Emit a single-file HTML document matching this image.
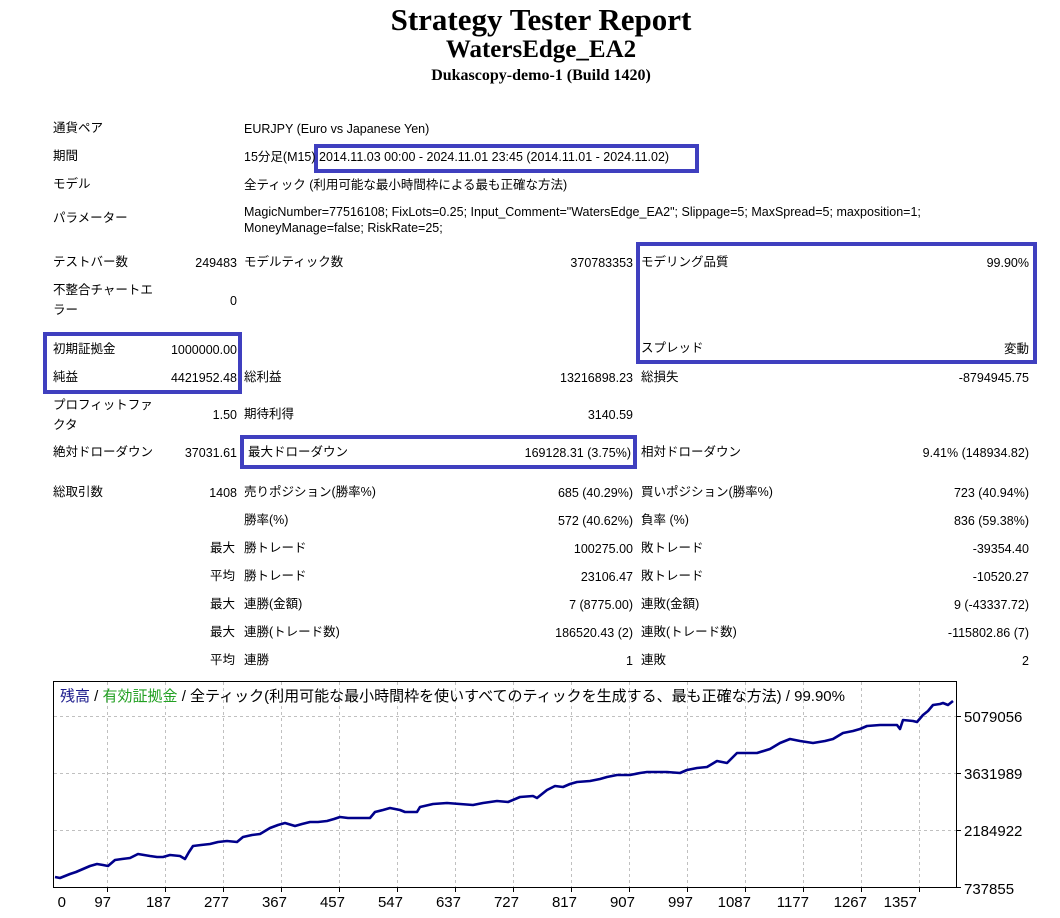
<!DOCTYPE html>
<html><head><meta charset="utf-8"><style>
body{margin:0;width:1060px;height:918px;background:#fff;position:relative;overflow:hidden;font-family:"Liberation Sans","Noto Sans CJK JP",sans-serif;font-size:12.5px;color:#000}
.t{position:absolute;white-space:nowrap;line-height:16px}
.r{text-align:right}
.h{position:absolute;left:0;width:1082px;text-align:center;font-family:"Liberation Serif",serif;font-weight:bold;white-space:nowrap}
.box{position:absolute;border:4px solid #3f3fbf;box-sizing:border-box}
</style></head><body>
<div class="h" style="top:2px;font-size:31px;line-height:35px">Strategy Tester Report</div>
<div class="h" style="top:35px;font-size:25px;line-height:29px">WatersEdge_EA2</div>
<div class="h" style="top:67px;font-size:16px;line-height:18px">Dukascopy-demo-1 (Build 1420)</div>

<div class="box" style="left:314px;top:144px;width:385px;height:29px"></div>
<div class="box" style="left:636px;top:242px;width:401px;height:122px"></div>
<div class="box" style="left:43px;top:332px;width:199px;height:62px"></div>
<div class="box" style="left:240px;top:435px;width:397px;height:34px"></div>

<div class="t" style="left:53px;top:120px">通貨ペア</div>
<div class="t" style="left:244px;top:121px">EURJPY (Euro vs Japanese Yen)</div>
<div class="t" style="left:53px;top:148px">期間</div>
<div class="t" style="left:244px;top:149px">15分足(M15) 2014.11.03 00:00 - 2024.11.01 23:45 (2014.11.01 - 2024.11.02)</div>
<div class="t" style="left:53px;top:176px">モデル</div>
<div class="t" style="left:244px;top:177px">全ティック (利用可能な最小時間枠による最も正確な方法)</div>
<div class="t" style="left:53px;top:210px">パラメーター</div>
<div class="t" style="left:244px;top:204px">MagicNumber=77516108; FixLots=0.25; Input_Comment="WatersEdge_EA2"; Slippage=5; MaxSpread=5; maxposition=1;</div>
<div class="t" style="left:244px;top:220px">MoneyManage=false; RiskRate=25;</div>

<div class="t" style="left:53px;top:254px">テストバー数</div>
<div class="t r" style="left:140px;width:97px;top:255px">249483</div>
<div class="t" style="left:244px;top:254px">モデルティック数</div>
<div class="t r" style="left:500px;width:133px;top:255px">370783353</div>
<div class="t" style="left:641px;top:254px">モデリング品質</div>
<div class="t r" style="left:900px;width:129px;top:255px">99.90%</div>
<div class="t" style="left:53px;top:282px">不整合チャートエ</div>
<div class="t" style="left:53px;top:302px">ラー</div>
<div class="t r" style="left:140px;width:97px;top:293px">0</div>
<div class="t" style="left:641px;top:340px">スプレッド</div>
<div class="t r" style="left:900px;width:129px;top:341px">変動</div>

<div class="t" style="left:53px;top:341px">初期証拠金</div>
<div class="t r" style="left:140px;width:97px;top:342px">1000000.00</div>
<div class="t" style="left:53px;top:369px">純益</div>
<div class="t r" style="left:140px;width:97px;top:370px">4421952.48</div>
<div class="t" style="left:244px;top:369px">総利益</div>
<div class="t r" style="left:480px;width:153px;top:370px">13216898.23</div>
<div class="t" style="left:641px;top:369px">総損失</div>
<div class="t r" style="left:880px;width:149px;top:370px">-8794945.75</div>

<div class="t" style="left:53px;top:397px">プロフィットファ</div>
<div class="t" style="left:53px;top:417px">クタ</div>
<div class="t r" style="left:140px;width:97px;top:407px">1.50</div>
<div class="t" style="left:244px;top:406px">期待利得</div>
<div class="t r" style="left:480px;width:153px;top:407px">3140.59</div>

<div class="t" style="left:53px;top:444px">絶対ドローダウン</div>
<div class="t r" style="left:140px;width:97px;top:445px">37031.61</div>
<div class="t" style="left:248px;top:444px">最大ドローダウン</div>
<div class="t r" style="left:450px;width:181px;top:445px">169128.31 (3.75%)</div>
<div class="t" style="left:641px;top:444px">相対ドローダウン</div>
<div class="t r" style="left:860px;width:169px;top:445px">9.41% (148934.82)</div>

<div class="t" style="left:53px;top:484px">総取引数</div>
<div class="t r" style="left:140px;width:97px;top:485px">1408</div>
<div class="t" style="left:244px;top:484px">売りポジション(勝率%)</div>
<div class="t r" style="left:480px;width:153px;top:485px">685 (40.29%)</div>
<div class="t" style="left:641px;top:484px">買いポジション(勝率%)</div>
<div class="t r" style="left:880px;width:149px;top:485px">723 (40.94%)</div>

<div class="t" style="left:244px;top:512px">勝率(%)</div>
<div class="t r" style="left:480px;width:153px;top:513px">572 (40.62%)</div>
<div class="t" style="left:641px;top:512px">負率 (%)</div>
<div class="t r" style="left:880px;width:149px;top:513px">836 (59.38%)</div>

<div class="t" style="left:210px;top:540px">最大</div>
<div class="t" style="left:244px;top:540px">勝トレード</div>
<div class="t r" style="left:480px;width:153px;top:541px">100275.00</div>
<div class="t" style="left:641px;top:540px">敗トレード</div>
<div class="t r" style="left:880px;width:149px;top:541px">-39354.40</div>

<div class="t" style="left:210px;top:568px">平均</div>
<div class="t" style="left:244px;top:568px">勝トレード</div>
<div class="t r" style="left:480px;width:153px;top:569px">23106.47</div>
<div class="t" style="left:641px;top:568px">敗トレード</div>
<div class="t r" style="left:880px;width:149px;top:569px">-10520.27</div>

<div class="t" style="left:210px;top:596px">最大</div>
<div class="t" style="left:244px;top:596px">連勝(金額)</div>
<div class="t r" style="left:480px;width:153px;top:597px">7 (8775.00)</div>
<div class="t" style="left:641px;top:596px">連敗(金額)</div>
<div class="t r" style="left:880px;width:149px;top:597px">9 (-43337.72)</div>

<div class="t" style="left:210px;top:624px">最大</div>
<div class="t" style="left:244px;top:624px">連勝(トレード数)</div>
<div class="t r" style="left:480px;width:153px;top:625px">186520.43 (2)</div>
<div class="t" style="left:641px;top:624px">連敗(トレード数)</div>
<div class="t r" style="left:880px;width:149px;top:625px">-115802.86 (7)</div>

<div class="t" style="left:210px;top:652px">平均</div>
<div class="t" style="left:244px;top:652px">連勝</div>
<div class="t r" style="left:480px;width:153px;top:653px">1</div>
<div class="t" style="left:641px;top:652px">連敗</div>
<div class="t r" style="left:880px;width:149px;top:653px">2</div>

<svg style="position:absolute;left:0;top:0" width="1060" height="918">
<g stroke="#c0c0c0" stroke-dasharray="3,3" stroke-width="1">
<line x1="54" x2="956" y1="716.5" y2="716.5"/><line x1="54" x2="956" y1="773.5" y2="773.5"/><line x1="54" x2="956" y1="830.5" y2="830.5"/>
<line x1="107.5" x2="107.5" y1="682" y2="887"/><line x1="165.5" x2="165.5" y1="682" y2="887"/><line x1="223.5" x2="223.5" y1="682" y2="887"/><line x1="281.5" x2="281.5" y1="682" y2="887"/><line x1="339.5" x2="339.5" y1="682" y2="887"/><line x1="397.5" x2="397.5" y1="682" y2="887"/><line x1="455.5" x2="455.5" y1="682" y2="887"/><line x1="513.5" x2="513.5" y1="682" y2="887"/><line x1="571.5" x2="571.5" y1="682" y2="887"/><line x1="629.5" x2="629.5" y1="682" y2="887"/><line x1="687.5" x2="687.5" y1="682" y2="887"/><line x1="745.5" x2="745.5" y1="682" y2="887"/><line x1="803.5" x2="803.5" y1="682" y2="887"/><line x1="861.5" x2="861.5" y1="682" y2="887"/><line x1="919.5" x2="919.5" y1="682" y2="887"/>
</g>
<rect x="53.5" y="681.5" width="903" height="206" fill="none" stroke="#000" stroke-width="1"/>
<g stroke="#000">
<line x1="956" x2="961" y1="716.5" y2="716.5"/><line x1="956" x2="961" y1="773.5" y2="773.5"/><line x1="956" x2="961" y1="830.5" y2="830.5"/><line x1="956" x2="961" y1="887.5" y2="887.5"/>
<line x1="107.5" x2="107.5" y1="887" y2="892"/><line x1="165.5" x2="165.5" y1="887" y2="892"/><line x1="223.5" x2="223.5" y1="887" y2="892"/><line x1="281.5" x2="281.5" y1="887" y2="892"/><line x1="339.5" x2="339.5" y1="887" y2="892"/><line x1="397.5" x2="397.5" y1="887" y2="892"/><line x1="455.5" x2="455.5" y1="887" y2="892"/><line x1="513.5" x2="513.5" y1="887" y2="892"/><line x1="571.5" x2="571.5" y1="887" y2="892"/><line x1="629.5" x2="629.5" y1="887" y2="892"/><line x1="687.5" x2="687.5" y1="887" y2="892"/><line x1="745.5" x2="745.5" y1="887" y2="892"/><line x1="803.5" x2="803.5" y1="887" y2="892"/><line x1="861.5" x2="861.5" y1="887" y2="892"/><line x1="919.5" x2="919.5" y1="887" y2="892"/>
</g>
<polyline fill="none" stroke="#00008b" stroke-width="2.6" stroke-linejoin="round" points="55,877 60,878 70,874 76,872 83,869 90,866 97,864 103,865 108,866 115,860 122,859 130,858 138,854 144,855 150,856 157,857 163,857 170,855 180,856 185,859 189,852 193,846 201,845 210,844 218,842 227,841 237,842 243,837 252,835 260,834 265,831 270,828 278,825 285,823 295,826 302,824 310,822 318,822 327,821 334,819 340,817 348,818 357,818 370,818 375,812 383,810 390,808 400,810 405,812 417,812 420,807 433,804 447,803 460,804 473,805 483,803 497,801 508,802 520,797 533,796 537,798 547,790 555,786 563,787 570,784 577,782 590,781 600,779 607,777 617,775 630,775 640,773 647,772 667,772 680,773 687,770 697,768 707,767 717,761 727,763 737,753 747,753 757,753 770,749 775,746 780,743 790,739 800,741 813,743 825,741 833,739 843,733 853,731 860,729 867,726 880,725 890,725 897,725 900,729 903,720 913,721 917,722 923,715 928,711 933,705 940,704 943,703 948,705 953,701"/>
<g font-family="Liberation Sans, sans-serif" font-size="15" fill="#000">
<text x="964" y="722">5079056</text><text x="964" y="779">3631989</text><text x="964" y="836">2184922</text><text x="964" y="894">737855</text>
<g text-anchor="end"><text x="66" y="907">0</text><text x="111" y="907">97</text><text x="171" y="907">187</text><text x="229" y="907">277</text><text x="287" y="907">367</text><text x="345" y="907">457</text><text x="403" y="907">547</text><text x="461" y="907">637</text><text x="519" y="907">727</text><text x="577" y="907">817</text><text x="635" y="907">907</text><text x="693" y="907">997</text><text x="751" y="907">1087</text><text x="809" y="907">1177</text><text x="867" y="907">1267</text><text x="917" y="907">1357</text></g>
</g>
<text x="60" y="701" font-family="Liberation Sans, Noto Sans CJK JP, sans-serif" font-size="15"><tspan fill="#1a1a8c">残高</tspan><tspan fill="#000"> / </tspan><tspan fill="#22a022">有効証拠金</tspan><tspan fill="#000"> / 全ティック(利用可能な最小時間枠を使いすべてのティックを生成する、最も正確な方法) / 99.90%</tspan></text>
</svg>
</body></html>
